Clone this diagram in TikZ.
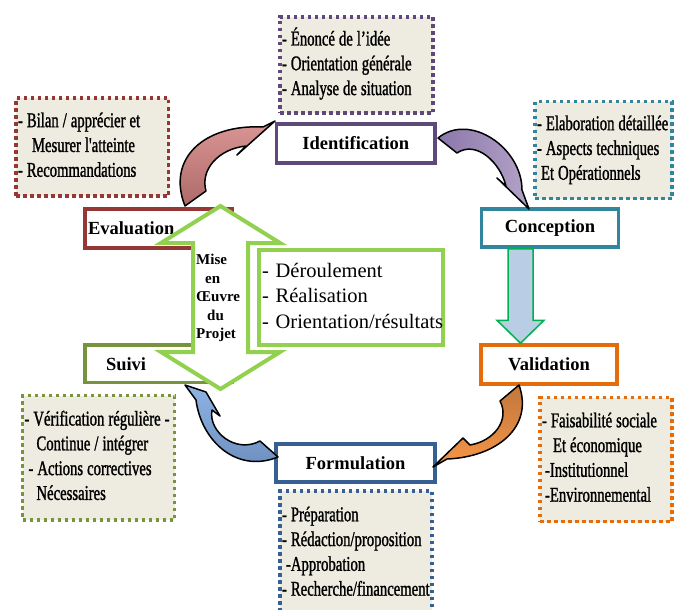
\documentclass[tikz,border=0pt]{standalone}
\usepackage{fontspec}
\setmainfont{Liberation Serif}
\newfontfamily\notefont[FakeStretch=0.7,FakeBold=1.2]{Liberation Serif}
\usetikzlibrary{calc}

\definecolor{noteback}{HTML}{EEECE1}
\definecolor{idcol}{HTML}{5F497A}
\definecolor{evcol}{HTML}{953735}
\definecolor{cocol}{HTML}{31859C}
\definecolor{vacol}{HTML}{E46C0A}
\definecolor{focol}{HTML}{376092}
\definecolor{sucol}{HTML}{77933C}
\definecolor{mecol}{HTML}{92D050}
\definecolor{dacol}{HTML}{00B050}
\definecolor{dafill}{HTML}{B9CDE5}
% fills of the curved arrows
\definecolor{evlight}{HTML}{DA9694}
\definecolor{evdark}{HTML}{AD6A69}
\definecolor{idlight}{HTML}{B3A2C7}
\definecolor{iddark}{HTML}{8B78AB}
\definecolor{valight}{HTML}{F79646}
\definecolor{vadark}{HTML}{C0773D}
\definecolor{folight}{HTML}{8EB4E3}
\definecolor{fodark}{HTML}{6A8CBE}

% lines set one under the other, never rewrapped
\newcommand{\linelist}[1]{\raisebox{-1.5pt}{\begin{tabular}{@{}l@{}}#1\end{tabular}}}
% condensed note text with tight word spaces
\newcommand{\notelines}[1]{\spaceskip=4pt plus 1pt\relax\linelist{#1}}

\tikzset{
  notes/.style={draw=#1, fill=noteback, line width=3.5pt,
    dash pattern=on 3.5pt off 3.5pt, align=left, inner xsep=2pt, inner ysep=0pt,
    font=\notefont\fontsize{21}{24.8}\selectfont},
  stage/.style={draw=#1, fill=white, line width=3.5pt, inner sep=0pt,
    font=\bfseries\fontsize{18.5}{20}\selectfont},
  bendarrow/.style={draw=black, line width=1.5pt, line join=round},
}

\begin{document}
\begin{tikzpicture}[x=1pt,y=-1pt]
\useasboundingbox (0,0) rectangle (675,610);

% ---- notes boxes
\node[notes=idcol, minimum width=153, minimum height=96, text width=149] (identnotes) at (356.5,65)
  {\notelines{- Énoncé de l’idée\\- Orientation générale\\- Analyse de situation}};
\node[notes=evcol, minimum width=152.5, minimum height=98, text width=148.5] (evalnotes) at (92.25,147)
  {\notelines{- Bilan / apprécier et\\\hspace*{14pt}Mesurer l'atteinte\\- Recommandations}};
\node[notes=cocol, minimum width=137, minimum height=97, text width=133] (concnotes) at (603.5,150)
  {\notelines{- Elaboration détaillée\\- Aspects techniques\\\hspace*{4pt}Et Opérationnels}};
\node[notes=vacol, minimum width=132, minimum height=124, text width=128] (valnotes) at (606,459.5)
  {\notelines{- Faisabilité sociale\\\hspace*{11pt}Et économique\\\hspace*{3pt}-Institutionnel\\\hspace*{3pt}-Environnemental}};
\node[notes=sucol, minimum width=152, minimum height=124.5, text width=148] (suivnotes) at (98.5,457.75)
  {\notelines{- Vérification régulière -\\\hspace*{12pt}Continue / intégrer\\\hspace*{4pt}- Actions correctives\\\hspace*{12pt}Nécessaires}};
\node[notes=focol, minimum width=152, minimum height=125, text width=148] (formnotes) at (356,553.5)
  {\notelines{- Préparation\\- Rédaction/proposition\\\hspace*{4pt}-Approbation\\- Recherche/financement}};

% ---- stage boxes
\node[stage=idcol, minimum width=158.5, minimum height=39] (ident) at (355.75,143.5) {Identification};
\node[stage=evcol, minimum width=147, minimum height=39, text width=141, inner xsep=3pt, align=left] (evalbox) at (158.5,228.5) {Evaluation};
\node[stage=cocol, minimum width=137, minimum height=38] (concep) at (550,228) {Conception};
\node[stage=vacol, minimum width=136, minimum height=39] (valid) at (549,364.5) {Validation};
\node[stage=focol, minimum width=159, minimum height=38] (formul) at (355.5,463) {Formulation};
\node[stage=sucol, minimum width=147, minimum height=37.5, text width=105, inner xsep=21pt, align=left] (suivi) at (158.5,363.75) {Suivi};

% ---- curved arrows of the cycle
% Evaluation -> Identification
\path[bendarrow, top color=evlight, bottom color=evdark]
  (185,206) .. controls (166,158) and (205,124) .. (263,127) -- (275,121) -- (237,155) -- (246,146)
  .. controls (218,149) and (200,170) .. (206,191) -- cycle;
% Identification -> Conception
\path[bendarrow, left color=iddark, right color=idlight]
  (438,138) .. controls (470,112) and (522,148) .. (522,190) -- (529,209) -- (497,178) -- (506,186)
  .. controls (500,162) and (476,140) .. (457,153) -- cycle;
% Validation -> Formulation
\path[bendarrow, top color=vadark, bottom color=valight]
  (519,385) .. controls (534,427) and (497,457) .. (447,459) -- (433,467) -- (463,438) -- (470,445)
  .. controls (494,441) and (510,420) .. (500,401) -- cycle;
% Formulation -> Suivi
\path[bendarrow, top color=folight, bottom color=fodark]
  (278,457) .. controls (236,474) and (201,440) .. (196,400) -- (185,385) -- (206,392) -- (220,416) -- (212,410)
  .. controls (208,432) and (236,454) .. (260,441) -- cycle;

% ---- project implementation: double arrow, caption and panel
\draw[line width=4pt, draw=mecol, fill=white, line join=miter]
  (220.5,206) -- (280,243) -- (248,243) -- (248,352) -- (280,352) -- (220.5,389)
  -- (161,352) -- (193,352) -- (193,243) -- (161,243) -- cycle;
\node[anchor=west, align=left, inner sep=0pt, font=\bfseries\fontsize{15}{18.6}\selectfont] (mise) at (196,298)
  {Mise\\\hspace*{9pt}en\\Œuvre\\\hspace*{11pt}du\\Projet};
\node[draw=mecol, line width=4pt, minimum width=184, minimum height=95, text width=178,
  inner xsep=3pt, inner ysep=0pt, align=left, font=\fontsize{20.5}{25.5}\selectfont] (panel) at (351,297.5)
  {\linelist{- Déroulement\\- Réalisation\\- Orientation/résultats}};

% ---- Conception -> Validation
\coordinate (dtop) at ($(concep.south)+(-29.5,0)$);
\coordinate (dtip) at ($(valid.north)+(-28.5,0)$);
\draw[draw=dacol, fill=dafill, line width=1.5pt, line join=miter]
  ($(dtop)+(-12.5,0)$) -- ($(dtop)+(12.5,0)$) -- ($(dtip)+(12.5,-23)$) -- ($(dtip)+(23.5,-23)$)
  -- (dtip) -- ($(dtip)+(-23.5,-23)$) -- ($(dtip)+(-12.5,-23)$) -- cycle;
\end{tikzpicture}
\end{document}
